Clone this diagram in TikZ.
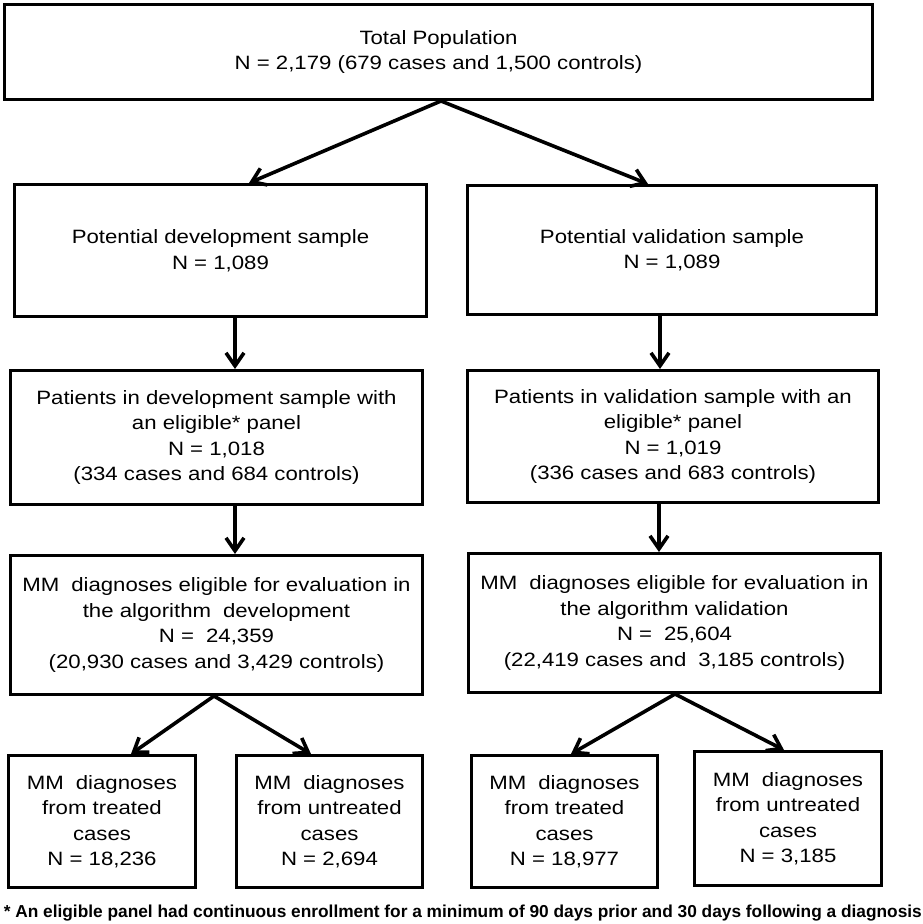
\documentclass[tikz,border=0pt]{standalone}
\usepackage{fontspec}
\setmainfont{Liberation Sans}
\newfontfamily\boxfont{Liberation Sans}[FakeStretch=1.15]
\usetikzlibrary{arrows.meta,calc}
\tikzset{
  box/.style={draw=black, line width=3pt, inner sep=0pt, align=center,
    font=\boxfont\fontsize{19.3}{25.5}\selectfont},
  arr/.style={line width=3.6pt, -{Straight Barb[length=13pt,width=18pt,line width=3.6pt]}},
  note/.style={font=\bfseries\fontsize{17.3}{20}\selectfont, inner sep=0pt}
}
\begin{document}
\begin{tikzpicture}[x=1pt,y=-1pt]
\useasboundingbox (0,0) rectangle (923,924);
\fill[white] (0,0) rectangle (923,924);
\node[box, minimum width=868pt, minimum height=95pt] (top) at (438.5,52)
  {Total Population\\N = 2,179 (679 cases and 1,500 controls)};
\node[box, minimum width=412pt, minimum height=132pt] (dev) at (220.5,250.5)
  {Potential development sample\\N = 1,089};
\node[box, minimum width=409pt, minimum height=129pt] (val) at (672,250)
  {Potential validation sample\\N = 1,089};
\node[box, minimum width=412pt, minimum height=134pt] (pdev) at (216.5,437.5)
  {Patients in development sample with\\an eligible* panel\\N = 1,018\\(334 cases and 684 controls)};
\node[box, minimum width=411pt, minimum height=132pt] (pval) at (673,436.5)
  {Patients in validation sample with an\\eligible* panel\\N = 1,019\\(336 cases and 683 controls)};
\node[box, minimum width=412pt, minimum height=139pt] (mdev) at (216.5,625)
  {MM\hspace{0.3em} diagnoses eligible for evaluation in\\the algorithm\hspace{0.3em} development\\N =\hspace{0.3em} 24,359\\(20,930 cases and 3,429 controls)};
\node[box, minimum width=412pt, minimum height=139pt] (mval) at (674.5,623)
  {MM\hspace{0.3em} diagnoses eligible for evaluation in\\the algorithm validation\\N =\hspace{0.3em} 25,604\\(22,419 cases and\hspace{0.3em} 3,185 controls)};
\node[box, minimum width=187pt, minimum height=132pt] (a) at (102,821.5)
  {MM\hspace{0.3em} diagnoses\\from treated\\cases\\N = 18,236};
\node[box, minimum width=186pt, minimum height=132pt] (b) at (329.5,821.5)
  {MM\hspace{0.3em} diagnoses\\from untreated\\cases\\N = 2,694};
\node[box, minimum width=186pt, minimum height=132pt] (c) at (564.5,821.5)
  {MM\hspace{0.3em} diagnoses\\from treated\\cases\\N = 18,977};
\node[box, minimum width=187pt, minimum height=134pt] (d) at (788,818.5)
  {MM\hspace{0.3em} diagnoses\\from untreated\\cases\\N = 3,185};
\node[note, anchor=east] (fn) at (922,913)
  {* An eligible panel had continuous enrollment for a minimum of 90 days prior and 30 days following a diagnosis};
% connectors
\draw[arr] ([xshift=2.5pt]top.south) -- ([xshift=28.5pt]dev.north);
\draw[arr] ([xshift=2.5pt]top.south) -- ([xshift=-24pt]val.north);
\draw[arr] ([xshift=14.5pt]dev.south) -- ([xshift=14.5pt]dev.south |- pdev.north);
\draw[arr] ([xshift=-12pt]val.south) -- ([xshift=-12pt]val.south |- pval.north);
\draw[arr] ([xshift=18.5pt]pdev.south) -- ([xshift=18.5pt]pdev.south |- mdev.north);
\draw[arr] ([xshift=-14pt]pval.south) -- ([xshift=-14pt]pval.south |- mval.north);
\draw[arr] ([xshift=-2.5pt]mdev.south) -- ([xshift=29pt]a.north);
\draw[arr] ([xshift=-2.5pt]mdev.south) -- ([xshift=-18.5pt]b.north);
\draw[arr] ([xshift=0.5pt]mval.south) -- ([xshift=6.5pt]c.north);
\draw[arr] ([xshift=0.5pt]mval.south) -- ([xshift=-4pt]d.north);
\end{tikzpicture}
\end{document}
